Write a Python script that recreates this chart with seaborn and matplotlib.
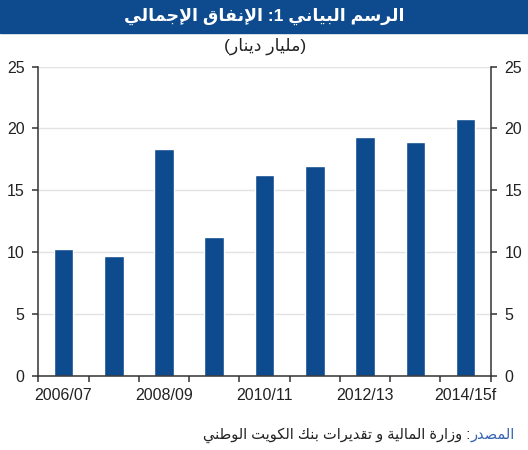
import re
import pandas as pd
import seaborn as sns
import matplotlib
matplotlib.use("Agg")
from matplotlib import pyplot as plt
from matplotlib.patches import Rectangle

# Data (billion KD)
years = ["2006/07", "2007/08", "2008/09", "2009/10", "2010/11",
         "2011/12", "2012/13", "2013/14", "2014/15f"]
spending = [10.25, 9.7, 18.3, 11.25, 16.2, 17.0, 19.3, 18.9, 20.8]
shown_labels = ["2006/07", "", "2008/09", "", "2010/11", "", "2012/13", "", "2014/15f"]
y_ticks = [0, 5, 10, 15, 20, 25]

title_txt = "الرسم البياني 1: الإنفاق الإجمالي"
unit_txt = "(مليار دينار)"
source_head = "المصدر"
source_rest = ": وزارة المالية و تقديرات بنك الكويت الوطني"

BLUE = "#0d4a8e"

# Arabic shaping: matplotlib has no complex text layout, so map letters to
# presentation forms (isolated, final, initial, medial) and reverse for RTL.
FORMS = {
    'ا': (0xFE8D, 0xFE8E, None, None), 'أ': (0xFE83, 0xFE84, None, None),
    'إ': (0xFE87, 0xFE88, None, None), 'آ': (0xFE81, 0xFE82, None, None),
    'ب': (0xFE8F, 0xFE90, 0xFE91, 0xFE92), 'ة': (0xFE93, 0xFE94, None, None),
    'ت': (0xFE95, 0xFE96, 0xFE97, 0xFE98), 'ث': (0xFE99, 0xFE9A, 0xFE9B, 0xFE9C),
    'ج': (0xFE9D, 0xFE9E, 0xFE9F, 0xFEA0), 'ح': (0xFEA1, 0xFEA2, 0xFEA3, 0xFEA4),
    'خ': (0xFEA5, 0xFEA6, 0xFEA7, 0xFEA8), 'د': (0xFEA9, 0xFEAA, None, None),
    'ذ': (0xFEAB, 0xFEAC, None, None), 'ر': (0xFEAD, 0xFEAE, None, None),
    'ز': (0xFEAF, 0xFEB0, None, None), 'س': (0xFEB1, 0xFEB2, 0xFEB3, 0xFEB4),
    'ش': (0xFEB5, 0xFEB6, 0xFEB7, 0xFEB8), 'ص': (0xFEB9, 0xFEBA, 0xFEBB, 0xFEBC),
    'ض': (0xFEBD, 0xFEBE, 0xFEBF, 0xFEC0), 'ط': (0xFEC1, 0xFEC2, 0xFEC3, 0xFEC4),
    'ظ': (0xFEC5, 0xFEC6, 0xFEC7, 0xFEC8), 'ع': (0xFEC9, 0xFECA, 0xFECB, 0xFECC),
    'غ': (0xFECD, 0xFECE, 0xFECF, 0xFED0), 'ف': (0xFED1, 0xFED2, 0xFED3, 0xFED4),
    'ق': (0xFED5, 0xFED6, 0xFED7, 0xFED8), 'ك': (0xFED9, 0xFEDA, 0xFEDB, 0xFEDC),
    'ل': (0xFEDD, 0xFEDE, 0xFEDF, 0xFEE0), 'م': (0xFEE1, 0xFEE2, 0xFEE3, 0xFEE4),
    'ن': (0xFEE5, 0xFEE6, 0xFEE7, 0xFEE8), 'ه': (0xFEE9, 0xFEEA, 0xFEEB, 0xFEEC),
    'و': (0xFEED, 0xFEEE, None, None), 'ى': (0xFEEF, 0xFEF0, None, None),
    'ي': (0xFEF1, 0xFEF2, 0xFEF3, 0xFEF4),
}
LAM_ALEF = {'آ': (0xFEF5, 0xFEF6), 'أ': (0xFEF7, 0xFEF8),
            'إ': (0xFEF9, 0xFEFA), 'ا': (0xFEFB, 0xFEFC)}
MIRROR = {'(': ')', ')': '('}


def shape(s):
    out = []
    i = 0
    while i < len(s):
        c = s[i]
        if c not in FORMS:
            out.append(c)
            i += 1
            continue
        prev = s[i - 1] if i > 0 else ''
        joins_prev = prev in FORMS and FORMS[prev][2] is not None
        nxt = s[i + 1] if i + 1 < len(s) else ''
        if c == 'ل' and nxt in LAM_ALEF:
            out.append(chr(LAM_ALEF[nxt][1 if joins_prev else 0]))
            i += 2
            continue
        iso, fin, ini, med = FORMS[c]
        joins_next = nxt in FORMS and ini is not None
        if joins_prev and joins_next:
            out.append(chr(med))
        elif joins_prev:
            out.append(chr(fin))
        elif joins_next:
            out.append(chr(ini))
        else:
            out.append(chr(iso))
        i += 1
    return ''.join(out)


def ar(s):
    # digit runs stay left-to-right, everything else is laid out right-to-left
    tokens = re.findall(r'[0-9]+|.', shape(s))
    return ''.join(MIRROR.get(t, t) for t in reversed(tokens))


df = pd.DataFrame({"year": years, "spending": spending})

sns.set_style("white")
plt.rcParams['font.family'] = ['Liberation Sans', 'DejaVu Sans']

fig = plt.figure(figsize=(5.28, 4.5), dpi=100)
ax = fig.add_axes([0.0725, 0.165, 0.857, 0.687])

sns.barplot(data=df, x="year", y="spending", color=BLUE, saturation=1,
            width=0.39, ax=ax)

ax.set_xlim(-0.5, len(years) - 0.5)
ax.set_ylim(0, 25)
ax.set_yticks(y_ticks)
ax.set_xticks(range(len(years)))
ax.set_xticklabels(shown_labels)
ax.set_xticks([k - 0.5 for k in range(len(years) + 1)], minor=True)
ax.set_xlabel("")
ax.set_ylabel("")

ax.grid(axis="y", color="#e3e3e3", linewidth=1)
ax.set_axisbelow(True)
for side in ["left", "right", "bottom"]:
    ax.spines[side].set_visible(True)
    ax.spines[side].set_color("#333333")
    ax.spines[side].set_linewidth(1.1)
ax.spines["top"].set_visible(False)

ax.tick_params(axis="x", which="major", length=0, pad=9, labelsize=11.5,
               labelcolor="#222222")
ax.tick_params(axis="x", which="minor", length=4, width=1.1, color="#333333",
               direction="out", bottom=True)
ax.tick_params(axis="y", length=4, width=1.1, color="#333333", direction="out",
               left=True, right=True, labelleft=True, labelright=True,
               labelsize=11.5, labelcolor="#222222", pad=6)

# title banner
fig.patches.append(Rectangle((0, 1 - 33 / 450), 1, 33 / 450,
                             transform=fig.transFigure, color=BLUE, zorder=0))
fig.text(0.5, 0.963, ar(title_txt), color="white", fontsize=12.5,
         fontweight="bold", ha="center", va="center")
fig.text(0.502, 0.898, ar(unit_txt), color="#222222", fontsize=12.5,
         ha="center", va="center")

head = fig.text(0.975, 0.033, ar(source_head), color="#3463b4", fontsize=10.5,
                ha="right", va="center")
ax.annotate(ar(source_rest), xy=(0, 0.5), xycoords=head, color="#222222",
            fontsize=10.5, ha="right", va="center", annotation_clip=False)

fig.savefig("out.png", dpi=100)
